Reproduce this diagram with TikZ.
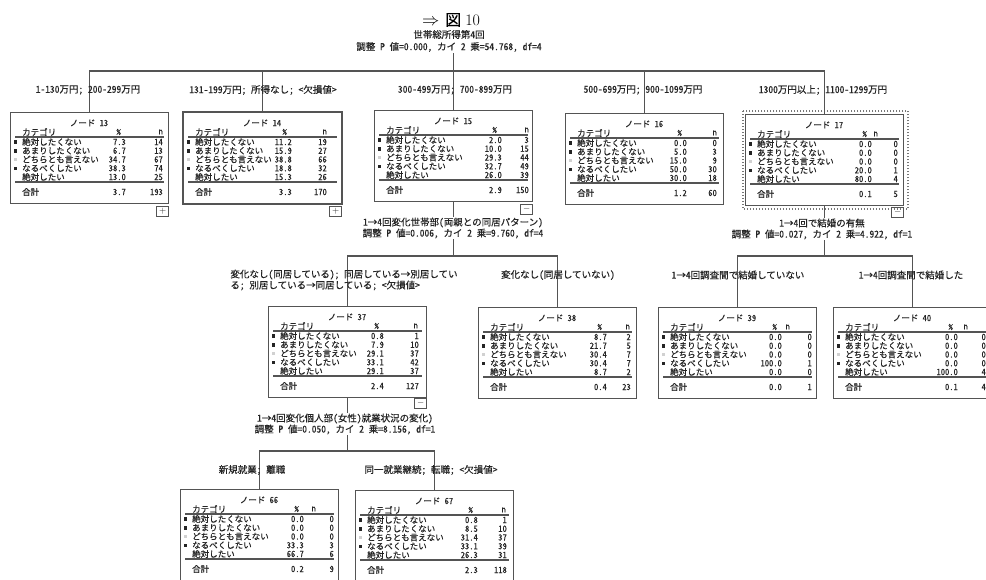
\documentclass[tikz,border=0pt]{standalone}
\usepackage{fontspec}
\newfontfamily\jp{Noto Sans CJK JP}[RawFeature=+hwid, FakeBold=0.4]
\definecolor{ln}{gray}{0.33}
\definecolor{tx}{gray}{0.14}
\definecolor{lgt}{gray}{0.82}
\tikzset{
  tbox/.style={draw=ln, line width=1.1pt, minimum width=158pt, minimum height=91pt, inner sep=0pt, anchor=north west},
  ttext/.style={font=\jp\fontsize{8.5}{9}\selectfont, text=tx, inner sep=0pt},
  lab/.style={font=\jp\fontsize{9.5}{11}\selectfont, text=tx, inner sep=0pt, align=center},
  splitlab/.style={lab, fill=white, inner sep=1pt},
  conn/.style={draw=ln, line width=1.1pt},
  pm/.style={draw=ln, line width=0.8pt, minimum width=12pt, minimum height=10pt, inner sep=0pt, font=\fontsize{9}{9}\selectfont, text=tx, anchor=north east},
}
% #1 name, #2 top-left, #3 number, #4 pct offset, #5 n offset, #6 header n offset, #7 data
\newcommand\tnode[7]{%
  \node[tbox] (#1) at (#2) {};
  \begin{scope}[shift={(#1.north west)}]
    \node[ttext] at (79,11) {ノード #3};
    \node[ttext,anchor=west] at (12,20) {カテゴリ};
    \node[ttext,anchor=east] at ({158-#4-5},20) {\%};
    \node[ttext,anchor=east] at ({158-#6},20) {n};
    \draw[conn] (5,25) -- (154,25);
    \draw[conn] (5,70) -- (154,70);
    \fill[tx] (3.5,28.2) rectangle (7,31.7);
    \fill[tx] (3.5,37) rectangle (7,40.5);
    \fill[lgt] (3.5,45.7) rectangle (7,49.2);
    \fill[tx] (3.5,54.5) rectangle (7,58);
    \foreach \cv [count=\ci] in {絶対したくない,あまりしたくない,どちらとも言えない,なるべくしたい,絶対したい,合計}{%
      \pgfmathsetmacro\yy{\ci<6 ? 30+(\ci-1)*8.75 : 80}
      \node[ttext,anchor=west] at (12,\yy) {\cv};
    }
    \foreach \pv/\nv [count=\ci] in {#7}{%
      \pgfmathsetmacro\yy{\ci<6 ? 30+(\ci-1)*8.75 : 80}
      \node[ttext,anchor=east] at ({158-#4},\yy) {\pv};
      \node[ttext,anchor=east] at ({158-#5},\yy) {\nv};
    }
  \end{scope}
}
\begin{document}
\begin{tikzpicture}[x=1pt,y=-1pt]
\fill[white] (0,0) rectangle (986,579);
\clip (0,0) rectangle (986,579);

% title
\node[text=black] (title) at (451,20) {\fontsize{16}{16}\selectfont$\Rightarrow$\hspace{6pt}{\jp 図}\hspace{4pt}10};
\node[splitlab,font=\jp\fontsize{9.5}{12}\selectfont] (root) at (449,41) {世帯総所得第4回\\調整 P 値=0.000, カイ 2 乗=54.768, df=4};

% level 1
\tnode{n13}{10,112}{13}{42}{5}{5}{7.3/14,6.7/13,34.7/67,38.3/74,13.0/25,3.7/193}
\tnode{n14}{183,112}{14}{49}{14}{14}{11.2/19,15.9/27,38.8/66,18.8/32,15.3/26,3.3/170}
\tnode{n15}{374,110}{15}{30}{3}{3}{2.0/3,10.0/15,29.3/44,32.7/49,26.0/39,2.9/150}
\tnode{n16}{565,113}{16}{36}{6}{6}{0.0/0,5.0/3,15.0/9,50.0/30,30.0/18,1.2/60}
\tnode{n17}{745,114}{17}{31}{5}{25}{0.0/0,0.0/0,0.0/0,20.0/1,80.0/4,0.1/5}
\draw[ln, line width=2.2pt] (n14.north west) rectangle (n14.south east);
\draw[ln!80, line width=1.3pt, dash pattern=on 1.3pt off 1.7pt] ([shift={(-2,-3)}]n17.north west) rectangle ([shift={(4,3)}]n17.south east);

% level 2
\tnode{n37}{268,306}{37}{42}{7}{8}{0.8/1,7.9/10,29.1/37,33.1/42,29.1/37,2.4/127}
\tnode{n38}{478,307}{38}{29}{5}{6}{8.7/2,21.7/5,30.4/7,30.4/7,8.7/2,0.4/23}
\tnode{n39}{658,307}{39}{34}{4}{26}{0.0/0,0.0/0,0.0/0,100.0/1,0.0/0,0.0/1}
\tnode{n40}{833,307}{40}{33}{5}{23}{0.0/0,0.0/0,0.0/0,0.0/0,100.0/4,0.1/4}

% level 3
\tnode{n66}{180,489}{66}{34}{4}{22}{0.0/0,0.0/0,0.0/0,33.3/3,66.7/6,0.2/9}
\tnode{n67}{355,490}{67}{35}{6}{7}{0.8/1,8.5/10,31.4/37,33.1/39,26.3/31,2.3/118}

% expand / collapse marks
\node[pm] (p13) at ([yshift=-1.5pt]n13.south east) {+};
\node[pm] (p14) at ([yshift=-1.5pt]n14.south east) {+};
\node[pm] (p15) at ([yshift=-2pt]n15.south east) {$-$};
\node[pm] (p17) at ([yshift=-1pt]n17.south east) {$-$};
\node[pm] (p37) at (n37.south east) {$-$};

% connectors
\coordinate (y71) at (0,71);
\coordinate (j0) at (n15.north |- y71);
\draw[conn] (root.south -| j0) -- (n15.north);
\draw[conn] (n13.north) |- (j0) -| (n17.north);
\draw[conn] (n14.north) -- (n14.north |- y71);
\draw[conn] (n16.north) -- (n16.north |- y71);

\coordinate (y256) at (0,256);
\draw[conn] (n15.south) -- (n15.south |- y256);
\draw[conn] (n37.north) |- (n15.south |- y256) -| (n38.north);
\draw[conn] (n17.south) -- (n17.south |- y256);
\draw[conn] (n39.north) |- (n17.south |- y256) -| (n40.north);

\coordinate (y451) at (0,451);
\draw[conn] (n37.south) -- (n37.south |- y451);
\draw[conn] (n66.north) |- (n37.south |- y451) -| (n67.north);

% split labels
\node[splitlab] (s15) at (453,228) {1→4回変化世帯部(両親との同居パターン)\\調整 P 値=0.006, カイ 2 乗=9.760, df=4};
\node[splitlab] (s17) at (822,229) {1→4回で結婚の有無\\調整 P 値=0.027, カイ 2 乗=4.922, df=1};
\node[splitlab] (s37) at (345,424) {1→4回変化個人部(女性)就業状況の変化)\\調整 P 値=0.050, カイ 2 乗=8.156, df=1};

% branch labels
\node[lab] (b13) at (88,90) {1-130万円; 200-299万円};
\node[lab] (b14) at (263,90) {131-199万円; 所得なし; <欠損値>};
\node[lab] (b15) at (455,90) {300-499万円; 700-899万円};
\node[lab] (b16) at (643,90) {500-699万円; 900-1099万円};
\node[lab] (b17) at (823,90) {1300万円以上; 1100-1299万円};
\node[lab,align=left] (b37) at (344,280) {変化なし(同居している); 同居している→別居してい\\る; 別居している→同居している; <欠損値>};
\node[lab] (b38) at (558,275) {変化なし(同居していない)};
\node[lab] (b39) at (738,275) {1→4回調査間で結婚していない};
\node[lab] (b40) at (911,275) {1→4回調査間で結婚した};
\node[lab] (b66) at (252,470) {新規就業; 離職};
\node[lab] (b67) at (431,470) {同一就業継続; 転職; <欠損値>};
\end{tikzpicture}
\end{document}
